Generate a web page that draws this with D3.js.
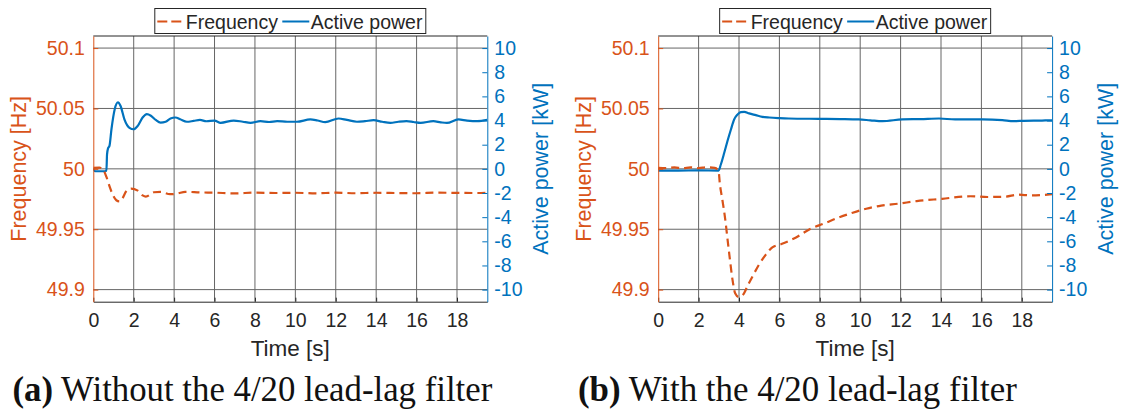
<!DOCTYPE html>
<html>
<head>
<meta charset="utf-8">
<script src="https://cdn.jsdelivr.net/npm/d3@7"></script>
<style>
  html, body { margin: 0; padding: 0; background: #fff; }
  svg { display: block; font-family: "Liberation Sans", Arial, sans-serif; }
</style>
</head>
<body>
<svg id="chart" width="1121" height="414"></svg>
<script>
// ── Data ─────────────────────────────────────────────────────────────────
const timeTicks  = [0, 2, 4, 6, 8, 10, 12, 14, 16, 18];
const freqTicks  = [49.9, 49.95, 50, 50.05, 50.1];
const powerTicks = [-10, -8, -6, -4, -2, 0, 2, 4, 6, 8, 10];
const legendLabels = ['Frequency', 'Active power'];
const captionTags  = ['(a)', '(b)'];
const captionTexts = [' Without the 4/20 lead-lag filter', ' With the 4/20 lead-lag filter'];

// (a) without filter
const tFreqA = [0, 0.3, 0.5, 0.65, 0.8, 0.98, 1.14, 1.3, 1.46, 1.63, 1.87, 2.2, 2.44, 2.6, 3.0, 3.33,
  3.8, 4.15, 4.55, 5.3, 6, 7, 8, 9, 10, 11, 12, 13, 14, 15, 16, 17, 18, 19, 19.5];
const freqA = [50.0008, 50.001, 49.999, 49.9933, 49.9856, 49.978, 49.974, 49.973, 49.976, 49.9814,
  49.9836, 49.982, 49.978, 49.977, 49.9806, 49.981, 49.979, 49.9795, 49.981, 49.9805, 49.9803,
  49.9797, 49.9803, 49.98, 49.9802, 49.9797, 49.9803, 49.9798, 49.9802, 49.98, 49.9798, 49.9803,
  49.9801, 49.98, 49.9802];
const tPowA = [0, 0.1, 0.3, 0.5, 0.65, 0.68, 0.73, 0.8, 0.9, 1.06, 1.22, 1.35, 1.54, 1.79, 2.0, 2.2,
  2.44, 2.65, 2.85, 3.09, 3.33, 3.58, 3.82, 4.07, 4.3, 4.63, 4.96, 5.28, 5.6, 6.0, 6.3, 6.95, 7.4,
  7.78, 8.27, 8.7, 9.1, 9.6, 10.08, 10.74, 11.1, 11.48, 12.14, 12.55, 13.05, 13.45, 13.87, 14.3,
  14.7, 15.1, 15.5, 15.85, 16.2, 16.83, 17.2, 17.5, 18.07, 18.5, 19, 19.5];
const powA = [0, -0.2, -0.2, -0.2, -0.15, 1.2, 1.7, 1.9, 3.3, 4.94, 5.5, 5.2, 4.1, 3.4, 3.28, 3.56,
  4.25, 4.53, 4.4, 4.05, 3.83, 3.9, 4.17, 4.25, 4.1, 3.9, 3.97, 4.05, 3.94, 4.0, 3.81, 4.0, 3.9,
  3.81, 3.95, 3.88, 3.95, 3.9, 3.9, 4.09, 4.0, 3.87, 4.17, 4.05, 3.9, 3.95, 4.03, 3.9, 3.81, 3.9,
  3.95, 3.88, 3.81, 3.95, 3.85, 3.8, 4.09, 4.0, 3.95, 4.05];

// (b) with filter
const tFreqB = [0, 0.4, 0.8, 1.2, 1.6, 2.0, 2.4, 2.8, 2.99, 3.05, 3.18, 3.32, 3.43, 3.55, 3.68, 3.81,
  3.98, 4.21, 4.42, 4.67, 5.0, 5.33, 5.65, 6.1, 6.8, 7.5, 8.2, 8.92, 9.63, 10.3, 11.04, 11.9, 12.8,
  14.05, 15.46, 16.3, 17.2, 17.8, 18.5, 19.5];
const freqB = [50.0008, 50.0006, 50.0012, 50.0005, 50.0012, 50.0006, 50.0013, 50.0008, 49.998,
  49.988, 49.974, 49.958, 49.942, 49.925, 49.908, 49.897, 49.894, 49.896, 49.903, 49.911, 49.921,
  49.929, 49.935, 49.9377, 49.943, 49.95, 49.9547, 49.9596, 49.9637, 49.967, 49.9695, 49.9712,
  49.9733, 49.9752, 49.9773, 49.9767, 49.977, 49.9786, 49.978, 49.979];
const tPowB = [0, 1, 2, 2.99, 3.1, 3.27, 3.43, 3.6, 3.76, 3.93, 4.09, 4.26, 4.5, 4.83, 5.16, 5.5,
  6.0, 6.46, 7.95, 9.0, 9.93, 10.5, 11.1, 12.08, 13.0, 13.9, 14.7, 16.05, 17.04, 17.6, 18.1, 19.0, 19.5];
const powB = [-0.14, -0.14, -0.13, -0.14, 0.36, 1.33, 2.3, 3.26, 4.09, 4.5, 4.7, 4.72, 4.59, 4.45,
  4.31, 4.25, 4.2, 4.17, 4.14, 4.12, 4.09, 4.02, 3.95, 4.09, 4.12, 4.17, 4.09, 4.09, 4.03, 3.95,
  3.98, 4.0, 4.02];

// ── Style ────────────────────────────────────────────────────────────────
const ORANGE = '#D95319';
const BLUE   = '#0072BD';
const DARK   = '#262626';
const GRID   = '#666666';
const SANS   = '"Liberation Sans", Arial, sans-serif';

const svg = d3.select('#chart');
const TOP = 36, BOTTOM = 301.7;

const panels = [
  { left: 93.3,  right: 487.3,  tf: tFreqA, f: freqA, tp: tPowA, p: powA, capX: 12.5, capW: 480 },
  { left: 658.2, right: 1052.1, tf: tFreqB, f: freqB, tp: tPowB, p: powB, capX: 578,  capW: 439 },
];

panels.forEach((pn, i) => drawPanel(pn, i));

function drawPanel(pn, i) {
  const x  = d3.scaleLinear().domain([0, 19.5]).range([pn.left, pn.right]);
  const yF = d3.scaleLinear().domain([49.89, 50.11]).range([BOTTOM, TOP]);
  const yP = d3.scaleLinear().domain([-11, 11]).range([BOTTOM, TOP]);
  const g = svg.append('g');

  // grid
  g.append('g').selectAll('line').data(timeTicks.slice(1)).join('line')
    .attr('x1', d => x(d)).attr('x2', d => x(d))
    .attr('y1', TOP).attr('y2', BOTTOM)
    .attr('stroke', GRID).attr('stroke-width', 1);
  g.append('g').selectAll('line').data(freqTicks).join('line')
    .attr('x1', pn.left).attr('x2', pn.right)
    .attr('y1', d => yF(d)).attr('y2', d => yF(d))
    .attr('stroke', GRID).attr('stroke-width', 1);

  // box top
  g.append('line').attr('x1', pn.left).attr('x2', pn.right)
    .attr('y1', TOP).attr('y2', TOP).attr('stroke', DARK);

  // curves
  const clipId = 'clip' + i;
  svg.append('clipPath').attr('id', clipId).append('rect')
    .attr('x', pn.left).attr('y', TOP)
    .attr('width', pn.right - pn.left).attr('height', BOTTOM - TOP);

  const lineF = d3.line().x(d => x(d[0])).y(d => yF(d[1])).curve(d3.curveMonotoneX);
  const lineP = d3.line().x(d => x(d[0])).y(d => yP(d[1])).curve(d3.curveMonotoneX);

  g.append('path')
    .datum(d3.zip(pn.tp, pn.p))
    .attr('clip-path', `url(#${clipId})`)
    .attr('d', lineP)
    .attr('fill', 'none').attr('stroke', BLUE).attr('stroke-width', 2.2);

  g.append('path')
    .datum(d3.zip(pn.tf, pn.f))
    .attr('clip-path', `url(#${clipId})`)
    .attr('d', lineF)
    .attr('fill', 'none').attr('stroke', ORANGE).attr('stroke-width', 2.2)
    .attr('stroke-dasharray', '8,5');

  // axes
  const ax = g.append('g').attr('transform', `translate(0,${BOTTOM})`)
    .call(d3.axisBottom(x).tickValues(timeTicks).tickFormat(d3.format('d'))
      .tickSizeInner(-4).tickSizeOuter(0).tickPadding(11.5));
  ax.select('.domain').attr('stroke', DARK);
  ax.selectAll('.tick line').attr('stroke', DARK);
  ax.selectAll('text').attr('fill', DARK).attr('font-size', 19.5).attr('font-family', SANS);

  const al = g.append('g').attr('transform', `translate(${pn.left},0)`)
    .call(d3.axisLeft(yF).tickValues(freqTicks).tickFormat(d => String(d))
      .tickSizeInner(-5).tickSizeOuter(0).tickPadding(8.5));
  al.select('.domain').attr('stroke', ORANGE);
  al.selectAll('.tick line').attr('stroke', ORANGE);
  al.selectAll('text').attr('fill', ORANGE).attr('font-size', 19.5).attr('font-family', SANS);

  const ar = g.append('g').attr('transform', `translate(${pn.right},0)`)
    .call(d3.axisRight(yP).tickValues(powerTicks).tickFormat(d => String(d))
      .tickSizeInner(-5).tickSizeOuter(0).tickPadding(7));
  ar.select('.domain').attr('stroke', BLUE);
  ar.selectAll('.tick line').attr('stroke', BLUE);
  ar.selectAll('text').attr('fill', BLUE).attr('font-size', 19.5).attr('font-family', SANS);

  // axis labels
  const midY = (TOP + BOTTOM) / 2;
  g.append('text')
    .attr('transform', `translate(${pn.left - 74},${midY}) rotate(-90)`)
    .attr('text-anchor', 'middle').attr('dominant-baseline', 'central')
    .attr('font-size', 21.5).attr('fill', ORANGE)
    .text('Frequency [Hz]');
  g.append('text')
    .attr('transform', `translate(${pn.right + 54},${midY}) rotate(-90)`)
    .attr('text-anchor', 'middle').attr('dominant-baseline', 'central')
    .attr('font-size', 21.5).attr('fill', BLUE)
    .text('Active power [kW]');
  g.append('text')
    .attr('x', (pn.left + pn.right) / 2).attr('y', 356)
    .attr('text-anchor', 'middle').attr('font-size', 22.5).attr('fill', DARK)
    .text('Time [s]');

  // legend
  const lw = 271, lx = (pn.left + pn.right) / 2 - lw / 2, ly = 8.5;
  const lg = g.append('g').attr('transform', `translate(${lx},${ly})`);
  lg.append('rect').attr('width', lw).attr('height', 25)
    .attr('fill', '#fff').attr('stroke', DARK).attr('stroke-width', 1);
  lg.append('line').attr('x1', 2.5).attr('x2', 27.5).attr('y1', 13).attr('y2', 13)
    .attr('stroke', ORANGE).attr('stroke-width', 2).attr('stroke-dasharray', '10,4');
  lg.append('text').attr('x', 31).attr('y', 20).attr('font-size', 19.5).attr('fill', DARK)
    .text(legendLabels[0]);
  lg.append('line').attr('x1', 127.5).attr('x2', 154.5).attr('y1', 13).attr('y2', 13)
    .attr('stroke', BLUE).attr('stroke-width', 2);
  lg.append('text').attr('x', 156).attr('y', 20).attr('font-size', 19.5).attr('fill', DARK)
    .text(legendLabels[1]);

  // caption
  const cap = svg.append('text')
    .attr('x', pn.capX).attr('y', 401)
    .attr('font-family', '"Liberation Serif", "Times New Roman", serif')
    .attr('font-size', 29).attr('fill', '#111');
  cap.append('tspan').attr('font-weight', 'bold').text(captionTags[i]);
  cap.append('tspan').text(captionTexts[i]);
  const w = cap.node().getComputedTextLength();
  cap.attr('font-size', 29 * pn.capW / w);
}
</script>
</body>
</html>
